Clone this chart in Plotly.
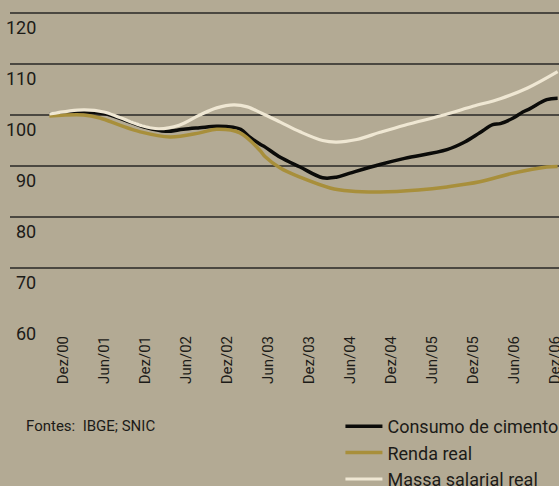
import plotly.graph_objects as go

# ---- data (months since Dez/00) ----
tick_months = [0, 6, 12, 18, 24, 30, 36, 42, 48, 54, 60, 66, 72]
tick_labels = ["Dez/00", "Jun/01", "Dez/01", "Jun/02", "Dez/02", "Jun/03", "Dez/03",
               "Jun/04", "Dez/04", "Jun/05", "Dez/05", "Jun/06", "Dez/06"]
y_ticks = [60, 70, 80, 90, 100, 110, 120]

consumo_x = [-2, 3, 6, 9, 12, 15, 17.6, 20, 22.5, 24.9, 26, 27.4, 28.8, 29.6, 31.8, 34.7,
             38, 40, 42, 46.4, 50, 56.2, 58.8, 61, 62.9, 64, 65.9, 67.3, 68.3, 70.8, 72.4]
consumo_y = [100.2, 100.6, 100.3, 99.0, 97.6, 96.8, 97.2, 97.5, 97.8, 97.6, 97.2, 95.6, 94.3,
             93.7, 91.7, 89.8, 87.7, 87.8, 88.6, 90.3, 91.5, 93.2, 94.7, 96.5, 98.1, 98.3,
             99.4, 100.6, 101.2, 103.0, 103.3]

renda_x = [-2, 3, 5.4, 8.3, 11.3, 15.7, 20, 22.5, 25.9, 28.8, 29.6, 31.8, 34.7, 39.1, 42,
           46.4, 52, 56.2, 61, 65.9, 70.8, 72.4]
renda_y = [99.8, 100.0, 99.4, 98.0, 96.7, 95.7, 96.5, 97.2, 96.5, 93.1, 91.8, 89.6, 87.8,
           85.7, 85.1, 84.9, 85.3, 85.9, 86.9, 88.6, 89.8, 89.9]

massa_x = [-2, 3, 6, 8.3, 11.3, 14, 17, 20, 22.5, 25, 27, 29, 31.8, 34.7, 38, 40, 43, 46.4,
           50, 56, 60, 64, 68, 72.4]
massa_y = [100.2, 101.0, 100.6, 99.5, 98.0, 97.3, 98.0, 100.0, 101.4, 102.0, 101.6, 100.4,
           98.6, 96.7, 95.0, 94.7, 95.2, 96.6, 98.0, 100.1, 101.7, 103.2, 105.3, 108.5]

FONT = "Roboto, Liberation Sans Narrow, sans-serif"
BG = "#b3aa94"
TXT = "#1c1b18"

fig = go.Figure()
fig.add_trace(go.Scatter(x=consumo_x, y=consumo_y, mode="lines", name="Consumo de cimento",
                         line=dict(color="#0b0b09", width=3.5, shape="spline", smoothing=1.0)))
fig.add_trace(go.Scatter(x=renda_x, y=renda_y, mode="lines", name="Renda real",
                         line=dict(color="#a88f3b", width=3.5, shape="spline", smoothing=1.0)))
fig.add_trace(go.Scatter(x=massa_x, y=massa_y, mode="lines", name="Massa salarial real",
                         line=dict(color="#efe7d3", width=3.2, shape="spline", smoothing=1.0)))

for v in y_ticks:
    fig.add_annotation(x=0.051, xref="paper", y=v, yref="y", text=str(v), showarrow=False,
                       xanchor="right", yanchor="middle", yshift=-14,
                       font=dict(family=FONT, size=18, color=TXT))

fig.add_annotation(x=0.0255, xref="paper", y=-0.335, yref="paper", text="Fontes:  IBGE; SNIC",
                   showarrow=False, xanchor="left", yanchor="middle",
                   font=dict(family=FONT, size=15, color=TXT))

fig.update_layout(
    width=559, height=486,
    margin=dict(l=10, r=0, t=0, b=167, autoexpand=False),
    paper_bgcolor=BG, plot_bgcolor=BG,
    showlegend=True,
    legend=dict(x=0.609, y=0.1605, xref="container", yref="container",
                xanchor="left", yanchor="top",
                bgcolor="rgba(0,0,0,0)", font=dict(family=FONT, size=18, color=TXT),
                itemwidth=37, tracegroupgap=0),
    xaxis=dict(range=[-7.76, 72.6], tickmode="array", tickvals=tick_months, ticktext=tick_labels,
               tickangle=-90, showgrid=False, zeroline=False, showline=False, ticks="",
               ticklabelstandoff=13, ticklabeloverflow="allow",
               tickfont=dict(family=FONT, size=15, color=TXT)),
    yaxis=dict(range=[60, 122.55], tickmode="array", tickvals=y_ticks, showticklabels=False,
               showgrid=True, gridcolor="#4b4841", gridwidth=1.6, zeroline=False, showline=False),
)

fig.write_html("out.html", config={"displayModeBar": False},
               post_script="document.body.style.margin='0';")
